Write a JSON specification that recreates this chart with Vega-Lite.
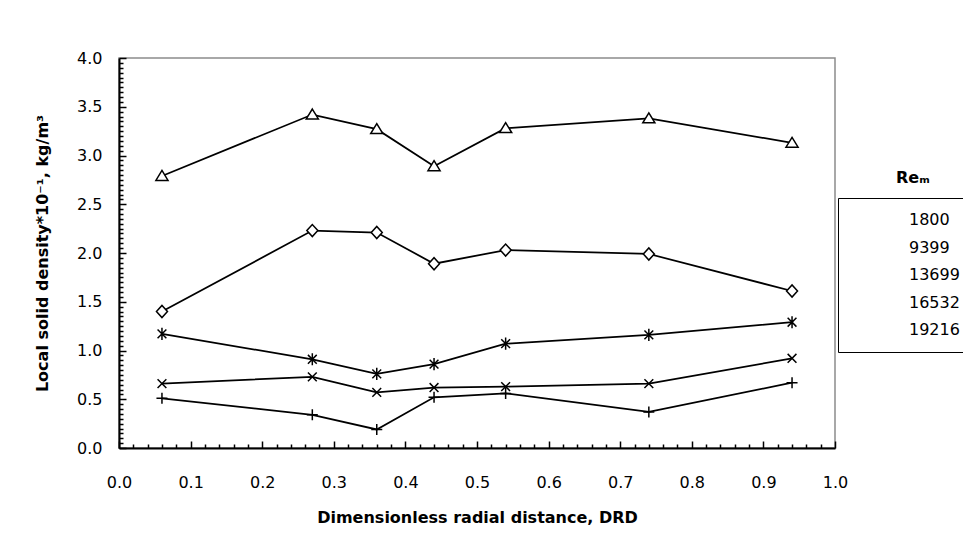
{
  "$schema": "https://vega.github.io/schema/vega-lite/v6.json",
  "width": 716,
  "height": 390,
  "autosize": {"type": "none"},
  "padding": {"left": 119, "top": 58, "right": 128, "bottom": 101},
  "background": "white",
  "config": {
    "view": {"stroke": "#8c8c8c", "strokeWidth": 1.5},
    "font": "DejaVu Sans"
  },
  "datasets": {
    "d": [
      {"drd": 0.06, "rho": 0.51, "Re": "1800"},
      {"drd": 0.27, "rho": 0.34, "Re": "1800"},
      {"drd": 0.36, "rho": 0.19, "Re": "1800"},
      {"drd": 0.44, "rho": 0.52, "Re": "1800"},
      {"drd": 0.54, "rho": 0.56, "Re": "1800"},
      {"drd": 0.74, "rho": 0.37, "Re": "1800"},
      {"drd": 0.94, "rho": 0.67, "Re": "1800"},
      {"drd": 0.06, "rho": 0.66, "Re": "9399"},
      {"drd": 0.27, "rho": 0.73, "Re": "9399"},
      {"drd": 0.36, "rho": 0.57, "Re": "9399"},
      {"drd": 0.44, "rho": 0.62, "Re": "9399"},
      {"drd": 0.54, "rho": 0.63, "Re": "9399"},
      {"drd": 0.74, "rho": 0.66, "Re": "9399"},
      {"drd": 0.94, "rho": 0.92, "Re": "9399"},
      {"drd": 0.06, "rho": 1.17, "Re": "13699"},
      {"drd": 0.27, "rho": 0.91, "Re": "13699"},
      {"drd": 0.36, "rho": 0.76, "Re": "13699"},
      {"drd": 0.44, "rho": 0.86, "Re": "13699"},
      {"drd": 0.54, "rho": 1.07, "Re": "13699"},
      {"drd": 0.74, "rho": 1.16, "Re": "13699"},
      {"drd": 0.94, "rho": 1.29, "Re": "13699"},
      {"drd": 0.06, "rho": 1.40, "Re": "16532"},
      {"drd": 0.27, "rho": 2.23, "Re": "16532"},
      {"drd": 0.36, "rho": 2.21, "Re": "16532"},
      {"drd": 0.44, "rho": 1.89, "Re": "16532"},
      {"drd": 0.54, "rho": 2.03, "Re": "16532"},
      {"drd": 0.74, "rho": 1.99, "Re": "16532"},
      {"drd": 0.94, "rho": 1.61, "Re": "16532"},
      {"drd": 0.06, "rho": 2.79, "Re": "19216"},
      {"drd": 0.27, "rho": 3.42, "Re": "19216"},
      {"drd": 0.36, "rho": 3.27, "Re": "19216"},
      {"drd": 0.44, "rho": 2.89, "Re": "19216"},
      {"drd": 0.54, "rho": 3.28, "Re": "19216"},
      {"drd": 0.74, "rho": 3.38, "Re": "19216"},
      {"drd": 0.94, "rho": 3.13, "Re": "19216"}
    ]
  },
  "layer": [
    {
      "data": {"name": "d"},
      "mark": {"type": "line", "color": "black", "strokeWidth": 1.75},
      "encoding": {
        "x": {
          "field": "drd", "type": "quantitative",
          "scale": {"domain": [0, 1], "nice": false, "zero": false},
          "axis": {
            "title": "Dimensionless radial distance, DRD",
            "values": [0,0.02,0.04,0.06,0.08,0.1,0.12,0.14,0.16,0.18,0.2,0.22,0.24,0.26,0.28,0.3,0.32,0.34,0.36,0.38,0.4,0.42,0.44,0.46,0.48,0.5,0.52,0.54,0.56,0.58,0.6,0.62,0.64,0.66,0.68,0.7,0.72,0.74,0.76,0.78,0.8,0.82,0.84,0.86,0.88,0.9,0.92,0.94,0.96,0.98,1],
            "tickCount": 200,
            "labelExpr": "abs(datum.value*10-round(datum.value*10))<0.001 ? format(datum.value,'.1f') : ''",
            "tickSize": {"condition": {"test": "abs(datum.value*10-round(datum.value*10))<0.001", "value": -7}, "value": -4},
            "domainColor": "black", "domainWidth": 2,
            "tickColor": "black", "tickWidth": 1.5,
            "labelFont": "DejaVu Sans", "labelFontSize": 16, "labelColor": "black", "labelPadding": 33,
            "labelFlush": false, "labelOverlap": false,
            "titleFont": "DejaVu Sans", "titleFontSize": 16, "titleFontWeight": "bold", "titleColor": "black", "titlePadding": 16,
            "grid": false
          }
        },
        "y": {
          "field": "rho", "type": "quantitative",
          "scale": {"domain": [0, 4], "nice": false, "zero": false},
          "axis": {
            "title": "Local  solid density*10⁻¹, kg/m³",
            "values": [0,0.05,0.1,0.15,0.2,0.25,0.3,0.35,0.4,0.45,0.5,0.55,0.6,0.65,0.7,0.75,0.8,0.85,0.9,0.95,1,1.05,1.1,1.15,1.2,1.25,1.3,1.35,1.4,1.45,1.5,1.55,1.6,1.65,1.7,1.75,1.8,1.85,1.9,1.95,2,2.05,2.1,2.15,2.2,2.25,2.3,2.35,2.4,2.45,2.5,2.55,2.6,2.65,2.7,2.75,2.8,2.85,2.9,2.95,3,3.05,3.1,3.15,3.2,3.25,3.3,3.35,3.4,3.45,3.5,3.55,3.6,3.65,3.7,3.75,3.8,3.85,3.9,3.95,4],
            "tickCount": 200,
            "labelExpr": "abs(datum.value*2-round(datum.value*2))<0.001 ? format(datum.value,'.1f') : ''",
            "tickSize": {"condition": {"test": "abs(datum.value*2-round(datum.value*2))<0.001", "value": -7}, "value": -4},
            "domainColor": "black", "domainWidth": 2,
            "tickColor": "black", "tickWidth": 1.5,
            "labelFont": "DejaVu Sans", "labelFontSize": 16, "labelColor": "black", "labelPadding": 24,
            "labelFlush": false, "labelOverlap": false,
            "titleFont": "DejaVu Sans", "titleFontSize": 16, "titleFontWeight": "bold", "titleColor": "black", "titlePadding": 26,
            "grid": false
          }
        },
        "detail": {"field": "Re", "type": "nominal"}
      }
    },
    {
      "data": {"name": "d"},
      "mark": {"type": "point", "filled": true, "fill": "white", "stroke": "black", "strokeWidth": 1.5, "size": 121, "opacity": 1},
      "encoding": {
        "x": {"field": "drd", "type": "quantitative"},
        "y": {"field": "rho", "type": "quantitative"},
        "shape": {
          "field": "Re", "type": "nominal",
          "scale": {
            "domain": ["1800", "9399", "13699", "16532", "19216"],
            "range": [
              "M-1,0L1,0M0,-1L0,1",
              "M-0.8,-0.8L0.8,0.8M-0.8,0.8L0.8,-0.8",
              "M-0.8,-0.8L0.8,0.8M-0.8,0.8L0.8,-0.8M0,-1.1L0,1.1",
              "M-1,0L0,-1.1L1,0L0,1.1Z",
              "M0,-1L1.1,0.8L-1.1,0.8Z"
            ]
          },
          "legend": {
            "orient": "none", "legendX": 719, "legendY": 140,
            "title": null,
            "strokeColor": "black", "padding": 12,
            "symbolSize": 2916, "clipHeight": 20, "rowPadding": 7.5,
            "symbolOpacity": 1, "symbolFillColor": "white", "symbolStrokeColor": "black", "symbolStrokeWidth": 1.5,
            "labelFont": "DejaVu Sans", "labelFontSize": 16, "labelColor": "black", "labelOffset": 3,
            "labelExpr": "datum.label + '\u00a0\u00a0\u00a0\u00a0'",
            "encode": {
              "symbols": {
                "update": {
                  "shape": {"signal": "datum.value === '1800' ? 'M-1,0L1,0M0,-0.17L0,0.17' : datum.value === '9399' ? 'M-1,0L1,0M-0.15,-0.15L0.15,0.15M-0.15,0.15L0.15,-0.15' : datum.value === '13699' ? 'M-1,0L1,0M-0.15,-0.15L0.15,0.15M-0.15,0.15L0.15,-0.15M0,-0.2L0,0.2' : datum.value === '16532' ? 'M-1,0L-0.19,0M0.19,0L1,0M-0.19,0L0,-0.19L0.19,0L0,0.19Z' : 'M-1,0L-0.14,0M0.14,0L1,0M0,-0.22L0.22,0.12L-0.22,0.12Z'"},
                  "size": {"value": 2916},
                  "strokeWidth": {"value": 1.5},
                  "fill": {"value": "white"},
                  "stroke": {"value": "black"},
                  "opacity": {"value": 1}
                }
              }
            }
          }
        }
      }
    },
    {
      "data": {"values": [{"g": "Reₘ"}]},
      "mark": {"type": "point", "opacity": 0},
      "encoding": {
        "color": {
          "field": "g", "type": "nominal",
          "legend": {
            "orient": "none", "legendX": 777, "legendY": 112,
            "title": "Reₘ", "titleFont": "DejaVu Sans", "titleFontSize": 16, "titleFontWeight": "bold", "titleColor": "black",
            "padding": 0, "symbolOpacity": 0, "labelExpr": "''"
          }
        }
      }
    }
  ]
}
